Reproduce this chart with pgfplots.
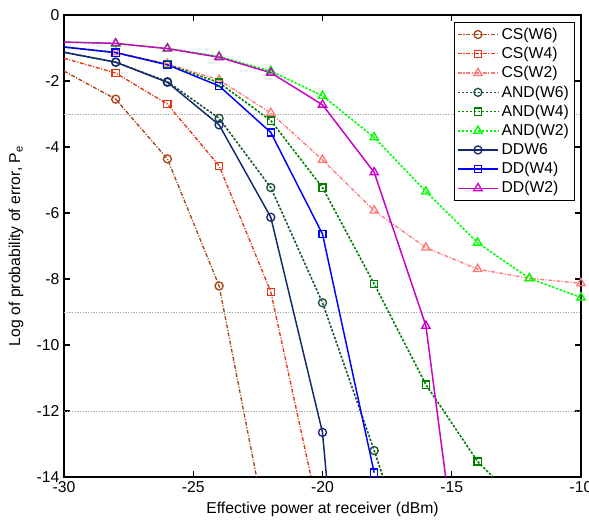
\documentclass[border=0pt]{standalone}
\usepackage{fontspec}
\setmainfont{Liberation Sans}
\usepackage{pgfplots}
\pgfplotsset{compat=1.18}

\definecolor{csw6}{RGB}{170,68,20}
\definecolor{csw4}{RGB}{228,52,16}
\definecolor{csw2}{RGB}{255,120,120}
\definecolor{andw6}{RGB}{26,84,52}
\definecolor{andw4}{RGB}{0,128,0}
\definecolor{andw2}{RGB}{0,255,0}
\definecolor{ddw6}{RGB}{20,40,110}
\definecolor{ddw4}{RGB}{0,0,255}
\definecolor{ddw2}{RGB}{200,0,200}

\newcommand\chartfont{\fontsize{11.8pt}{13pt}\selectfont}

\pgfplotsset{
  csline/.style={line width=1pt, dash pattern=on 3pt off 1.2pt on 0.8pt off 1.2pt},
  andline/.style={line width=1.2pt, dash pattern=on 1.8pt off 1.2pt},
  ddline/.style={line width=1.1pt, solid},
  mk/.style={mark options={solid, line width=1pt, fill=none}},
}

\begin{document}
\begin{tikzpicture}
\begin{axis}[
  scale only axis,
  width=387.75pt, height=346.5pt,
  xmin=-30, xmax=-10, ymin=-14, ymax=0,
  xtick={-30,-25,-20,-15,-10},
  ytick={0,-2,-4,-6,-8,-10,-12,-14},
  tick align=inside,
  major tick length=4.5pt,
  axis line style={line width=1pt},
  every tick/.style={black, line width=0.9pt},
  /pgf/number format/assume math mode=true,
  tick label style={font=\chartfont},
  label style={font=\chartfont},
  xlabel={Effective power at receiver (dBm)},
  ylabel={Log of probability of error, P\textsubscript{e}},
  ylabel style={yshift=3pt},
  extra y ticks={-3,-9,-12},
  extra y tick labels={},
  extra y tick style={grid=major, major grid style={gray!70, line width=0.6pt, dash pattern=on 1pt off 1pt}, major tick length=0pt},
  legend style={font=\chartfont, at={(0.988,0.985)}, anchor=north east,
    draw=black, line width=0.9pt, fill=white, inner sep=2pt, row sep=0.4pt},
  legend cell align=left,
  legend image code/.code={\draw[mark indices={2}] plot coordinates {(0cm,0cm) (0.53cm,0cm) (1.06cm,0cm)};},
]

% Channel-state detection
\addplot[csw6, csline, mark=o, mark size=3pt, mk, mark indices={2,3,4}] coordinates {
  (-30,-1.70) (-28,-2.55) (-26,-4.36) (-24,-8.21) (-22,-16.2)};
\addlegendentry{CS(W6)}
\addplot[csw4, csline, mark=square, mark size=2.7pt, mk, mark indices={2,3,4,5}] coordinates {
  (-30,-1.31) (-28,-1.76) (-26,-2.70) (-24,-4.57) (-22,-8.39) (-20,-15.6)};
\addlegendentry{CS(W4)}
\addplot[csw2, csline, mark=triangle, mark size=3.6pt, mk, mark indices={2,3,4,5,6,7,8,9,10,11}] coordinates {
  (-30,-0.97) (-28,-1.13) (-26,-1.48) (-24,-1.97) (-22,-2.97) (-20,-4.39)
  (-18,-5.93) (-16,-7.05) (-14,-7.70) (-12,-7.98) (-10,-8.13)};
\addlegendentry{CS(W2)}

% AND detection
\addplot[andw6, andline, mark=o, mark size=3pt, mk, mark indices={2,3,4,5,6,7}] coordinates {
  (-30,-1.13) (-28,-1.43) (-26,-2.02) (-24,-3.13) (-22,-5.23) (-20,-8.72) (-18,-13.2) (-16,-17.9)};
\addlegendentry{AND(W6)}
\addplot[andw4, andline, mark=square, mark size=2.7pt, mk, mark indices={2,3,4,5,6,7,8,9}] coordinates {
  (-30,-0.97) (-28,-1.14) (-26,-1.50) (-24,-2.05) (-22,-3.20) (-20,-5.23)
  (-18,-8.15) (-16,-11.2) (-14,-13.53) (-12,-15.1)};
\addlegendentry{AND(W4)}
\addplot[andw2, andline, mark=triangle, mark size=3.6pt, mk, mark indices={2,3,4,5,6,7,8,9,10,11}] coordinates {
  (-30,-0.82) (-28,-0.87) (-26,-1.01) (-24,-1.26) (-22,-1.70) (-20,-2.45)
  (-18,-3.71) (-16,-5.35) (-14,-6.90) (-12,-7.98) (-10,-8.56)};
\addlegendentry{AND(W2)}

% Direct detection
\addplot[ddw6, ddline, mark=o, mark size=3pt, mk, mark indices={2,3,4,5,6}] coordinates {
  (-30,-1.13) (-28,-1.43) (-26,-2.04) (-24,-3.33) (-22,-6.13) (-20,-12.65) (-18,-30)};
\addlegendentry{DDW6}
\addplot[ddw4, ddline, mark=square, mark size=2.7pt, mk, mark indices={2,3,4,5,6,7}] coordinates {
  (-30,-0.97) (-28,-1.14) (-26,-1.51) (-24,-2.15) (-22,-3.56) (-20,-6.64) (-18,-13.87)};
\addlegendentry{DD(W4)}
\addplot[ddw2, ddline, mark=triangle, mark size=3.6pt, mk, mark indices={2,3,4,5,6,7,8}] coordinates {
  (-30,-0.82) (-28,-0.86) (-26,-1.02) (-24,-1.28) (-22,-1.75) (-20,-2.72)
  (-18,-4.77) (-16,-9.42) (-14,-21.4)};
\addlegendentry{DD(W2)}

\end{axis}
\pgfresetboundingbox
\path ([xshift=-48pt,yshift=-35.25pt]current axis.south west)
  rectangle ([xshift=6pt,yshift=11.25pt]current axis.north east);
\end{tikzpicture}
\end{document}
